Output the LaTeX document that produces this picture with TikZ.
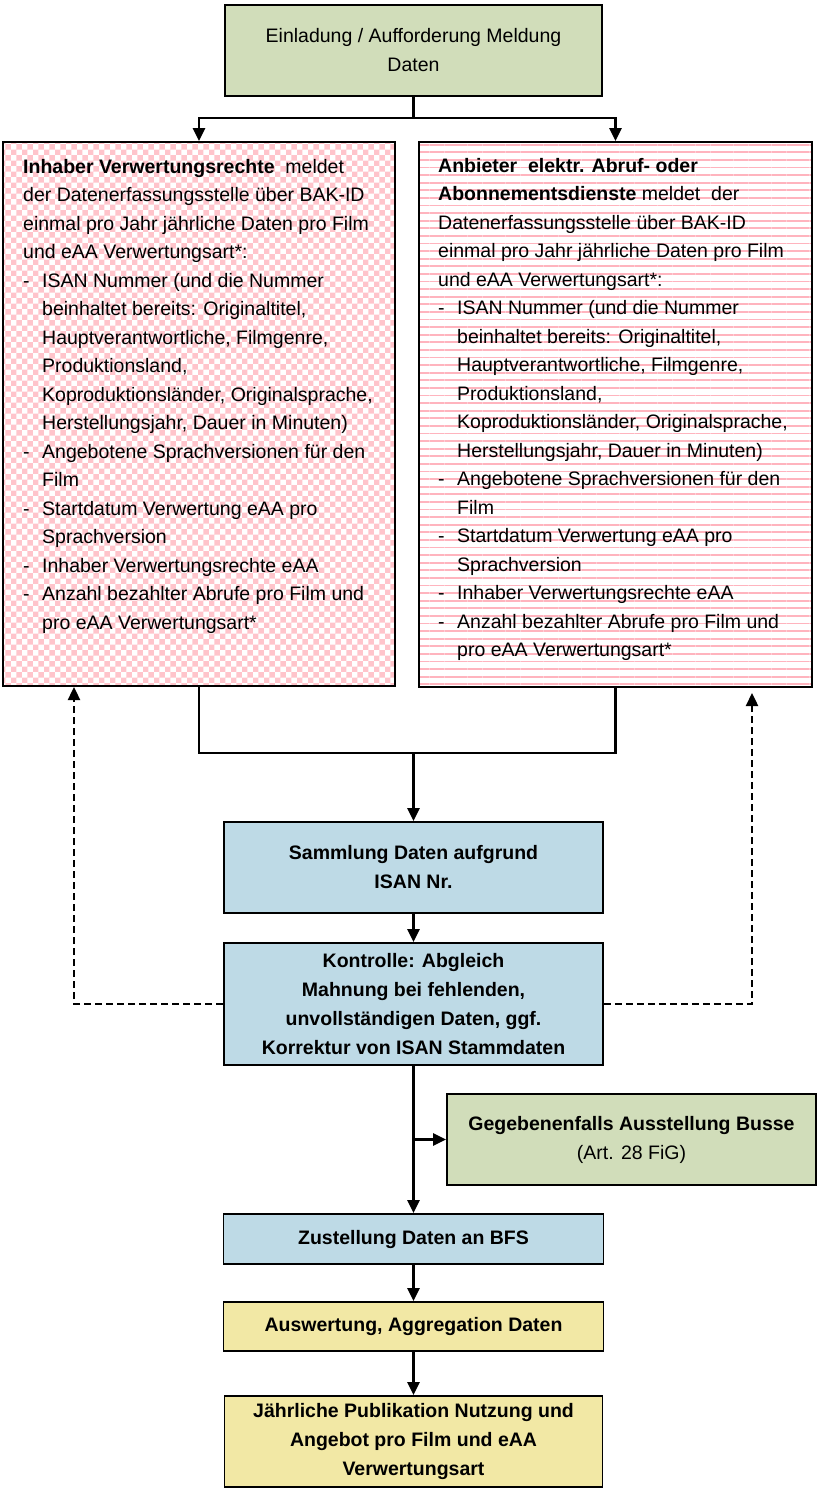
\documentclass[tikz,border=0pt]{standalone}
\usepackage{fontspec}
\setmainfont{Liberation Sans}
\usetikzlibrary{patterns,patterns.meta,arrows.meta}
\definecolor{boxgreen}{RGB}{209,221,186}
\definecolor{boxblue}{RGB}{190,218,230}
\definecolor{boxyellow}{RGB}{242,232,165}
\definecolor{pinkc}{RGB}{255,180,190}
\definecolor{pinkchk}{RGB}{255,196,203}
\newcommand{\dashitem}{\makebox[19pt][l]{-}}
\newcommand{\contind}{\hspace*{19pt}}
\tikzset{
  box/.style={draw=black, line width=1.8pt, inner sep=0pt, align=center,
    font=\fontsize{19.5}{29}\selectfont},
  boldbox/.style={box, font=\fontsize{19.5}{29}\selectfont\bfseries},
  conn/.style={line width=2.4pt, -{Triangle[length=13pt,width=12pt]}},
  plainline/.style={line width=2.4pt},
  dashconn/.style={line width=2.4pt, dash pattern=on 7pt off 4pt,
    -{Triangle[length=13pt,width=12pt]}},
  bodytext/.style={inner sep=0pt, align=left, anchor=north west,
    font=\fontsize{19.5}{28.5}\selectfont},
}
\begin{document}
\begin{tikzpicture}[x=1pt,y=1pt]
\useasboundingbox (0,0) rectangle (821,-1490);

% boxes
\node[box, fill=boxgreen, minimum width=377pt, minimum height=91pt] (top) at (413.5,-50.5)
  {Einladung / Aufforderung Meldung\\Daten};
\node[box, pattern=checkerboard, pattern color=pinkchk, minimum width=392pt, minimum height=544pt]
  (lbox) at (199,-414) {};
\node[box, pattern={Lines[angle=0,distance=7.6pt,line width=1.8pt]}, pattern color=pinkc,
  minimum width=393pt, minimum height=545pt] (rbox) at (615.5,-414.5) {};

\node[bodytext] (ltext) at (23,-159) {%
\textbf{Inhaber Verwertungsrechte}\ \ meldet\\
der Datenerfassungsstelle über BAK-ID\\
einmal pro Jahr jährliche Daten pro Film\\
und eAA Verwertungsart*:\\
\dashitem ISAN Nummer (und die Nummer\\
\contind beinhaltet bereits: Originaltitel,\\
\contind Hauptverantwortliche, Filmgenre,\\
\contind Produktionsland,\\
\contind Koproduktionsländer, Originalsprache,\\
\contind Herstellungsjahr, Dauer in Minuten)\\
\dashitem Angebotene Sprachversionen für den\\
\contind Film\\
\dashitem Startdatum Verwertung eAA pro\\
\contind Sprachversion\\
\dashitem Inhaber Verwertungsrechte eAA\\
\dashitem Anzahl bezahlter Abrufe pro Film und\\
\contind pro eAA Verwertungsart*};

\node[bodytext] (rtext) at (438,-158) {%
\textbf{Anbieter\ \ elektr. Abruf- oder}\\
\textbf{Abonnementsdienste} meldet\ \ der\\
Datenerfassungsstelle über BAK-ID\\
einmal pro Jahr jährliche Daten pro Film\\
und eAA Verwertungsart*:\\
\dashitem ISAN Nummer (und die Nummer\\
\contind beinhaltet bereits: Originaltitel,\\
\contind Hauptverantwortliche, Filmgenre,\\
\contind Produktionsland,\\
\contind Koproduktionsländer, Originalsprache,\\
\contind Herstellungsjahr, Dauer in Minuten)\\
\dashitem Angebotene Sprachversionen für den\\
\contind Film\\
\dashitem Startdatum Verwertung eAA pro\\
\contind Sprachversion\\
\dashitem Inhaber Verwertungsrechte eAA\\
\dashitem Anzahl bezahlter Abrufe pro Film und\\
\contind pro eAA Verwertungsart*};

\node[boldbox, fill=boxblue, minimum width=379pt, minimum height=91pt] (samm) at (413.5,-867.5)
  {Sammlung Daten aufgrund\\ISAN Nr.};
\node[boldbox, fill=boxblue, minimum width=379pt, minimum height=122pt] (kon) at (413.5,-1004)
  {Kontrolle: Abgleich\\Mahnung bei fehlenden,\\unvollständigen Daten, ggf.\\Korrektur von ISAN Stammdaten};
\node[box, fill=boxgreen, minimum width=369pt, minimum height=91pt] (geg) at (631.5,-1139.5)
  {\textbf{Gegebenenfalls Ausstellung Busse}\\(Art. 28 FiG)};
\node[boldbox, fill=boxblue, minimum width=380pt, minimum height=50pt] (zust) at (413.5,-1239)
  {Zustellung Daten an BFS};
\node[boldbox, fill=boxyellow, minimum width=380pt, minimum height=49pt] (ausw) at (413.5,-1326.5)
  {Auswertung, Aggregation Daten};
\node[boldbox, fill=boxyellow, minimum width=378pt, minimum height=91pt] (jahr) at (413.5,-1441.5)
  {Jährliche Publikation Nutzung und\\Angebot pro Film und eAA\\Verwertungsart};

% connectors
\coordinate (split) at (413.5,-118);
\draw[plainline] (top.south) -- (split);
\draw[conn] (split) -| (lbox.north);
\draw[conn] (split) -| (rbox.north);

\coordinate (join) at (413.5,-753);
\draw[plainline] (lbox.south) |- (join) -| (rbox.south);
\draw[conn] (join) -- (samm.north);
\draw[conn] (samm.south) -- (kon.north);

\coordinate (lback) at (74,-687);
\coordinate (rback) at (752,-693);
\draw[dashconn] (kon.west) -| (lback);
\draw[dashconn] (kon.east) -| (rback);

\draw[conn] (kon.south) -- (zust.north);
\draw[conn] (kon.south |- geg.west) -- (geg.west);
\draw[conn] (zust.south) -- (ausw.north);
\draw[conn] (ausw.south) -- (jahr.north);
\end{tikzpicture}
\end{document}
